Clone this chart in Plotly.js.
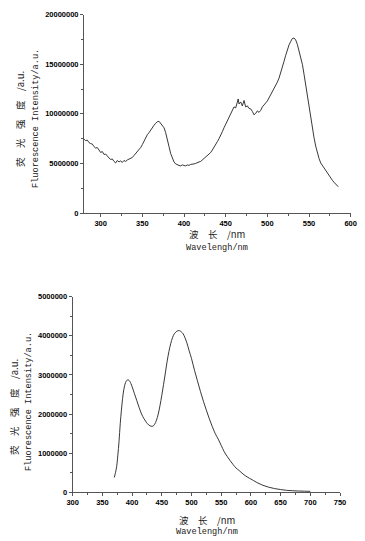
<!DOCTYPE html>
<html>
<head>
<meta charset="utf-8">
<script src="https://cdn.plot.ly/plotly-3.0.1.min.js"></script>
<style>html,body{margin:0;padding:0;background:#fff;}#chart{width:365px;height:541px;}</style>
</head>
<body>
<div id="chart"></div>
<script>
// Top spectrum
const topWavelength = [280,282,284,286,288,290,292,294,296,298,300,302,304,306,308,310,312,314,316,318,320,322,324,326,328,330,332,334,336,338,340,342,344,346,348,350,352,354,356,358,360,362,364,366,368,370,372,374,376,378,380,382,384,386,388,390,392,394,396,398,400,402,404,406,408,410,412,414,416,418,420,422,424,426,428,430,432,434,436,438,440,442,444,446,448,450,452,454,456,458,460,462,464,465,466,468,470,472,474,476,478,480,482,484,486,488,490,492,494,496,498,500,502,504,506,508,510,512,514,516,518,520,522,524,526,528,530,532,534,536,538,540,542,544,546,548,550,552,554,556,558,560,562,564,566,568,570,572,574,576,578,580,582,584,585];
const topIntensity = [7.45e6,7.3e6,7.35e6,7.1e6,7.0e6,6.95e6,6.7e6,6.55e6,6.6e6,6.3e6,6.1e6,6.2e6,5.9e6,5.95e6,5.7e6,5.55e6,5.4e6,5.45e6,5.2e6,5.05e6,5.3e6,5.15e6,5.25e6,5.1e6,5.3e6,5.2e6,5.35e6,5.45e6,5.5e6,5.6e6,5.8e6,6.0e6,6.15e6,6.4e6,6.6e6,6.9e6,7.25e6,7.6e6,7.9e6,8.1e6,8.4e6,8.6e6,8.85e6,9.05e6,9.2e6,9.25e6,9.05e6,8.9e6,8.6e6,8.1e6,7.5e6,6.7e6,6.0e6,5.5e6,5.15e6,4.95e6,4.85e6,4.8e6,4.75e6,4.85e6,4.8e6,4.75e6,4.85e6,4.8e6,4.9e6,4.9e6,4.95e6,5.0e6,5.1e6,5.15e6,5.2e6,5.35e6,5.4e6,5.6e6,5.75e6,5.95e6,6.1e6,6.35e6,6.6e6,6.9e6,7.2e6,7.5e6,7.8e6,8.2e6,8.6e6,8.95e6,9.3e6,9.7e6,10.1e6,10.4e6,10.7e6,10.6e6,11.1e6,11.5e6,11.0e6,11.2e6,10.8e6,11.35e6,10.7e6,10.8e6,10.55e6,10.5e6,10.25e6,9.9e6,10.05e6,10.3e6,10.15e6,10.35e6,10.7e6,10.85e6,11.1e6,11.3e6,11.6e6,11.85e6,12.2e6,12.5e6,12.85e6,13.2e6,13.6e6,14.1e6,14.7e6,15.3e6,15.9e6,16.5e6,16.95e6,17.3e6,17.6e6,17.65e6,17.45e6,17.0e6,16.4e6,15.7e6,15.0e6,14.0e6,12.9e6,11.7e6,10.5e6,9.5e6,8.6e6,7.6e6,6.75e6,6.05e6,5.5e6,5.05e6,4.8e6,4.5e6,4.2e6,4.0e6,3.75e6,3.5e6,3.3e6,3.1e6,2.95e6,2.75e6,2.65e6];

// Bottom spectrum
const botWavelength = [370,372,374,376,378,380,382,384,386,388,390,392,394,396,398,400,404,408,412,416,420,424,428,432,435,438,441,444,447,450,453,456,459,462,465,468,471,474,477,480,483,486,489,492,496,500,505,510,515,520,525,530,535,540,545,550,555,560,565,570,575,580,585,590,595,600,610,620,630,640,650,660,670,680,690,700];
const botIntensity = [0.38e6,0.5e6,0.66e6,0.95e6,1.3e6,1.75e6,2.1e6,2.4e6,2.62e6,2.76e6,2.84e6,2.87e6,2.87e6,2.84e6,2.78e6,2.7e6,2.52e6,2.34e6,2.16e6,2.0e6,1.88e6,1.79e6,1.72e6,1.69e6,1.69e6,1.74e6,1.84e6,2.0e6,2.22e6,2.48e6,2.76e6,3.05e6,3.35e6,3.6e6,3.8e6,3.95e6,4.05e6,4.1e6,4.13e6,4.13e6,4.1e6,4.05e6,3.95e6,3.83e6,3.62e6,3.42e6,3.12e6,2.85e6,2.58e6,2.33e6,2.1e6,1.88e6,1.68e6,1.5e6,1.36e6,1.2e6,1.04e6,0.92e6,0.81e6,0.71e6,0.62e6,0.56e6,0.49e6,0.43e6,0.38e6,0.34e6,0.25e6,0.18e6,0.13e6,0.095e6,0.07e6,0.05e6,0.04e6,0.033e6,0.028e6,0.025e6];

const topXTicks = [300,350,400,450,500,550,600];
const topYTicks = [0,5000000,10000000,15000000,20000000];
const botXTicks = [300,350,400,450,500,550,600,650,700,750];
const botYTicks = [0,1000000,2000000,3000000,4000000,5000000];

const yTitleCN = '荧\u3000光\u3000强\u3000度\u3000/a.u.';
const yTitleEN = 'Fluorescence Intensity/a.u.';
const xTitleCN = '波\u3000长\u3000/nm';
const xTitleEN = 'Wavelengh/nm';

const W = 365, H = 541;
const px = v => v / W;
const py = v => 1 - v / H;

const tickFont = {family: 'Liberation Sans, Arial, sans-serif', size: 7.5, color: '#000', weight: 'bold'};
function axisBase(extra) {
  return Object.assign({
    showgrid: false, zeroline: false, showline: true, linecolor: '#555', linewidth: 1,
    ticks: 'outside', ticklen: 3, tickcolor: '#555', tickwidth: 1,
    tickfont: tickFont, fixedrange: true, tickmode: 'array'
  }, extra);
}

const traces = [
  {x: topWavelength, y: topIntensity, xaxis: 'x', yaxis: 'y', mode: 'lines', line: {color: '#222', width: 0.9}, hoverinfo: 'skip'},
  {x: botWavelength, y: botIntensity, xaxis: 'x2', yaxis: 'y2', mode: 'lines', line: {color: '#222', width: 0.9, shape: 'spline'}, hoverinfo: 'skip'}
];

const cnFont = {family: 'Noto Sans CJK SC, sans-serif', size: 9.5, color: '#222'};
const enFont = {family: 'Liberation Mono, DejaVu Sans Mono, monospace', size: 8.6, color: '#222'};

const layout = {
  width: W, height: H,
  margin: {l: 0, r: 0, t: 0, b: 0},
  paper_bgcolor: '#fff', plot_bgcolor: '#fff',
  showlegend: false,
  xaxis: axisBase({domain: [px(84), px(350.7)], range: [280, 600], anchor: 'y', tickvals: topXTicks, ticktext: topXTicks.map(String),
    minor: {tickvals: [325,375,425,475,525,575], ticks: 'outside', ticklen: 2, tickcolor: '#555'}}),
  yaxis: axisBase({domain: [py(213), py(14.7)], range: [0, 20000000], anchor: 'x', tickvals: topYTicks, ticktext: topYTicks.map(String),
    minor: {tickvals: [2500000,7500000,12500000,17500000], ticks: 'outside', ticklen: 2, tickcolor: '#555'}}),
  xaxis2: axisBase({domain: [px(72.7), px(340)], range: [300, 750], anchor: 'y2', tickvals: botXTicks, ticktext: botXTicks.map(String),
    minor: {tickvals: [325,375,425,475,525,575,625,675,725], ticks: 'outside', ticklen: 2, tickcolor: '#555'}}),
  yaxis2: axisBase({domain: [py(492.3), py(296.7)], range: [0, 5000000], anchor: 'x2', tickvals: botYTicks, ticktext: botYTicks.map(String),
    minor: {tickvals: [500000,1500000,2500000,3500000,4500000], ticks: 'outside', ticklen: 2, tickcolor: '#555'}}),
  annotations: [
    {text: yTitleCN, xref: 'paper', yref: 'paper', x: px(20), y: py(119), textangle: -90, showarrow: false, font: cnFont, xanchor: 'center', yanchor: 'middle'},
    {text: yTitleEN, xref: 'paper', yref: 'paper', x: px(36), y: py(119), textangle: -90, showarrow: false, font: enFont, xanchor: 'center', yanchor: 'middle'},
    {text: xTitleCN, xref: 'paper', yref: 'paper', x: px(217), y: py(234), showarrow: false, font: cnFont, xanchor: 'center', yanchor: 'middle'},
    {text: xTitleEN, xref: 'paper', yref: 'paper', x: px(217), y: py(247.5), showarrow: false, font: enFont, xanchor: 'center', yanchor: 'middle'},
    {text: yTitleCN, xref: 'paper', yref: 'paper', x: px(14), y: py(407), textangle: -90, showarrow: false, font: cnFont, xanchor: 'center', yanchor: 'middle'},
    {text: yTitleEN, xref: 'paper', yref: 'paper', x: px(29), y: py(402), textangle: -90, showarrow: false, font: enFont, xanchor: 'center', yanchor: 'middle'},
    {text: xTitleCN, xref: 'paper', yref: 'paper', x: px(207), y: py(519.5), showarrow: false, font: cnFont, xanchor: 'center', yanchor: 'middle'},
    {text: xTitleEN, xref: 'paper', yref: 'paper', x: px(207), y: py(532), showarrow: false, font: enFont, xanchor: 'center', yanchor: 'middle'}
  ]
};

Plotly.newPlot('chart', traces, layout, {staticPlot: true, displayModeBar: false});
</script>
</body>
</html>
